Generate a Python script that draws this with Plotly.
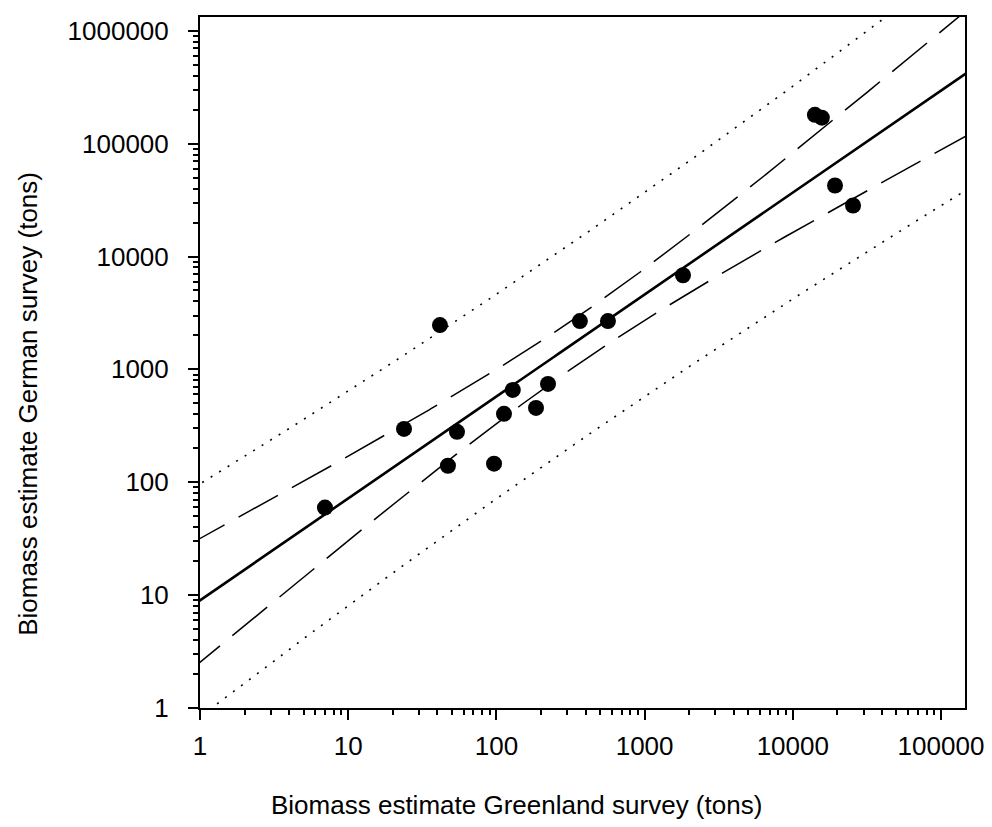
import numpy as np
import plotly.graph_objects as go

# Data (tons)
greenland = [6.97, 23.8, 41.6, 47.1, 54.2, 96.4, 112.5, 129, 185, 223, 366, 566, 1816, 14100, 15700, 19270, 25500]
german = [59.7, 297, 2467, 140, 280, 146, 404, 658, 456, 743, 2677, 2677, 6820, 180000, 170000, 42600, 28300]

x_ticks = [1, 10, 100, 1000, 10000, 100000]
y_ticks = [1, 10, 100, 1000, 10000, 100000, 1000000]
T95 = 2.131  # t quantile, 95 %, df = 15

# Regression in log space
lx = np.log10(greenland)
ly = np.log10(german)
n = len(lx)
b, a = np.polyfit(lx, ly, 1)
res = ly - (a + b * lx)
s = np.sqrt(np.sum(res ** 2) / (n - 2))
mx = lx.mean()
sxx = np.sum((lx - mx) ** 2)

gx = np.linspace(-0.1, 5.3, 300)
fit = a + b * gx
ci = T95 * s * np.sqrt(1 / n + (gx - mx) ** 2 / sxx)
pi = T95 * s * np.sqrt(1 + 1 / n + (gx - mx) ** 2 / sxx)
X = 10 ** gx

fig = go.Figure()
dash_line = dict(color="black", width=1.5, dash="45px,16px")
dot_line = dict(color="black", width=1.6, dash="2px,8px")
for yy, ln in [(fit + pi, dot_line), (fit - pi, dot_line), (fit + ci, dash_line), (fit - ci, dash_line)]:
    fig.add_trace(go.Scatter(x=X, y=10 ** yy, mode="lines", line=ln, hoverinfo="skip"))
fig.add_trace(go.Scatter(x=X, y=10 ** fit, mode="lines", line=dict(color="black", width=2.6)))
fig.add_trace(go.Scatter(x=greenland, y=german, mode="markers",
                         marker=dict(color="black", size=16, line=dict(width=0))))

font = dict(family="Liberation Sans, Arial, sans-serif", size=26, color="black")
axis_common = dict(type="log", showgrid=False, zeroline=False, showline=True, linecolor="black",
                   linewidth=2, mirror=True, ticks="outside", ticklen=10, tickwidth=1.5,
                   tickcolor="black", tickfont=font,
                   minor=dict(ticks="outside", ticklen=5, tickwidth=1.5, tickcolor="black",
                              dtick="D1", showgrid=False))
fig.update_xaxes(range=[0, 5.162], tickvals=x_ticks, ticktext=[str(v) for v in x_ticks],
                 ticklabelstandoff=4, **axis_common)
fig.update_yaxes(range=[0, 6.122], tickvals=y_ticks, ticktext=[str(v) for v in y_ticks],
                 ticklabelstandoff=14, **axis_common)

fig.add_annotation(text="Biomass estimate Greenland survey (tons)", xref="paper", yref="paper",
                   x=0.414, y=-0.140, xanchor="center", yanchor="middle", showarrow=False, font=font)
fig.add_annotation(text="Biomass estimate German survey (tons)", xref="paper", yref="paper",
                   x=-0.225, y=0.44, xanchor="center", yanchor="middle", textangle=-90,
                   showarrow=False, font=font)

# margins compensate for the page's default 8px body margin
fig.update_layout(width=992, height=827, showlegend=False, plot_bgcolor="white", paper_bgcolor="white",
                  margin=dict(l=192, r=35, t=7, b=127), font=font)
fig.write_html("out.html")
